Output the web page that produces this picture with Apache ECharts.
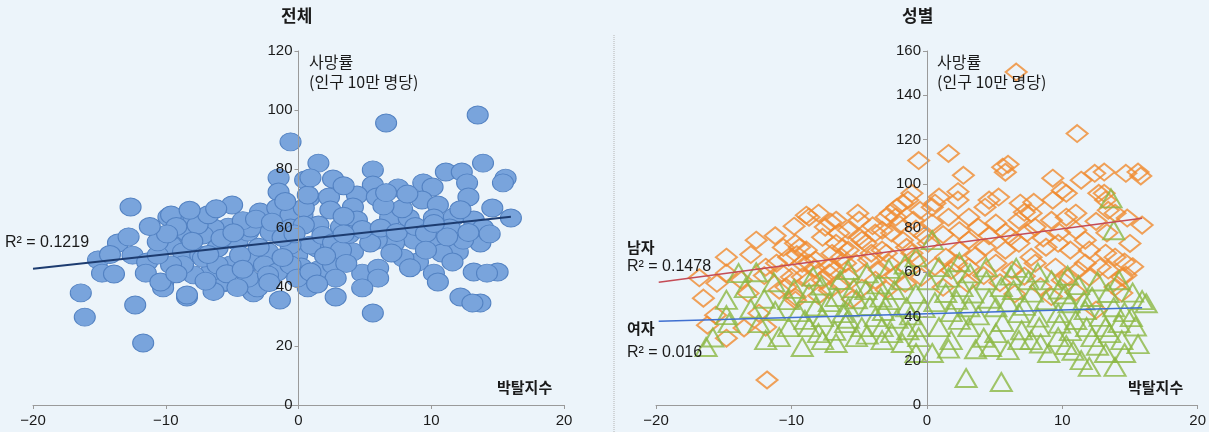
<!DOCTYPE html>
<html>
<head>
<meta charset="utf-8">
<script src="https://cdn.jsdelivr.net/npm/echarts@6/dist/echarts.min.js"></script>
<style>
  html, body { margin: 0; padding: 0; background: #ecf4fa; }
  #chart { width: 1209px; height: 432px; }
</style>
</head>
<body>
<div id="chart"></div>
<script>
// 박탈지수 vs 사망률 (인구 10만 명당): 전체 / 성별

// 전체 (deprivation index, death rate)
const allPoints = [
  [-12.65,67.1],[-13.6,54.9],[-15.1,49.2],[-14.8,44.7],[-13.9,44.4],[-16.4,38],[-16.1,29.8],[-12.3,33.9],[-11.7,21],
  [-12.5,50.8],[-11.4,48.5],[-11.5,44.7],[-10.2,41.2],[-10.2,39.7],[-8.4,36.6],[-5.0,67.8],[-9.8,63.7],[-8.9,62.7],
  [-7.9,63.4],[-9.5,54.2],[-0.6,89.2],[-1.5,77],[-1.5,72.2],[-5.7,41.4],[-3.4,38],[-1.4,35.6],
  [6.6,95.6],[13.5,98.3],[1.5,82],[13.9,82],[0.5,76.3],[2.6,76.6],[5.6,79.7],[5.6,74.6],[7.5,73.6],[9.4,75.3],
  [10.1,73.9],[11.1,79],[12.3,79],[12.7,75.3],[12.8,70.5],[15.6,76.9],[15.4,75.3],[14.6,66.8],[16,63.4],[9.3,69.5],
  [10.5,67.8],[0.8,70.2],[2.3,70.5],[4.4,71.2],[5.9,70.5],[4.1,67.1],[2.4,66.1],[0.3,64.4],[1.5,61],[3.2,60.3],
  [4.4,62.7],[6.9,63.4],[8.3,63.4],[10.2,63.4],[11.7,63.7],[13.2,62.7],[11.4,60],[13.7,54.9],[12,51.9],[12.4,55.9],
  [10.2,55.9],[10.8,51.5],[8.7,55.9],[9,48.5],[7.9,49.8],[7.2,54.9],[5.9,55.9],[4.1,51.9],[5.4,54.9],[1.4,53.2],
  [-0.1,50.8],[0.2,46.8],[1.5,45.8],[2.6,47.5],[0.7,39.7],[2.8,36.6],[4.8,44.7],[6,46.4],[6,43],[4.8,39.7],
  [5.6,31.2],[10.2,44.7],[10.5,41.7],[13.2,45.1],[15,45.1],[14.2,44.7],[12.2,36.6],[13.7,34.6],[13.1,34.6],[13.9,60],
  [-9.6,64.4],[-5.3,60.3],[-6.4,60],[-7.2,57.6],[-8.4,58.6],[-9.6,54.2],[-8.7,51.9],[-7.4,50.8],[-6.1,53.2],
  [-4.6,55.3],[-3.8,58.6],[-2.9,65.4],[-1.6,66.8],[-0.6,64.4],[0.4,66.8],[0.7,71.2],[0.9,77],[-3.6,60],[-2.1,58.6],
  [-0.6,60],[0.4,61],[0.9,54.2],[-0.6,54.2],[-2.3,51.9],[-3.6,48.5],[-2.6,47.5],[-1.6,45.1],[-0.6,47.5],[-0.1,43],
  [0.9,45.1],[-3.1,39.7],[-3.8,43],[-5.1,47.5],[-5.6,41.7],[-6.6,45.1],[-7.9,44.1],[-8.7,47.5],[-9.6,47.5],
  [-10.4,41.7],[-8.4,37.3],[-7.2,49.8],[-10.6,50.8],[-10.6,55.3],[-4.4,50.8],[-6.1,47.5],[-2.3,44.1],
  [-9.2,60.5],[-7.6,61],[-6.8,64.5],[-4.2,62.5],[-3.2,63],[-5.8,56.5],[-4.9,58.4],[-8,55.5],[-9.9,58],[-6.8,51],
  [-5.4,44.5],[-4.2,46],[-3,53.5],[-1.2,56.8],[-2,62],[-1,69],[1.8,57.5],[2.6,55],[3.2,52.5],[3.8,57.8],
  [4.8,59.5],[6.2,60],[7.4,58.5],[8.8,60.5],[9.6,58.2],[7.8,66.5],[6.4,67.5],[3.4,64],[2,50.5],[3.6,48],
  [7,51.5],[8.4,46.5],[9.6,52.5],[11.2,57],[12.8,58.5],[14.4,58],[11.6,48.5],[2.8,43],[1.4,41],[-2.2,41.5],
  [-4.6,39.8],[-6.4,38.5],[-7,42],[-9.2,44.5],[-11.2,60.5],[-12.8,57],[-14.2,51],[-8.2,66],[-6.2,66.5],[-1.2,50],
  [3.4,58],[10.2,61.5],[12.2,66.2],[8.2,71.5],[6.6,72],[3.4,74.3],[-0.3,58]
];

// 남자
const malePoints = [
  [6.6,150.5],[11.1,122.7],[1.6,113.7],[-0.6,110.5],[2.7,103.8],[2.3,96.4],[2.3,92.6],[5.6,107.5],[5.8,105.2],
  [6.0,108.8],[9.3,102.5],[11.4,101.6],[12.4,104.7],[13.1,105.3],[14.7,104.7],[15.6,105.3],[15.8,103.5],[13.1,95.7],
  [13.4,88],[10,97],[10.3,95.7],[9.3,92.6],[6.9,91.2],[4.6,92.6],[4.3,89.4],[5.3,94],[7.2,87.1],[7.7,86.7],
  [7.9,91.6],[0.6,91.2],[-0.5,88],[-1.4,92.6],[-1.1,95.7],[-2.2,89.4],[-2.7,86.7],[-5.1,86.7],[-8.9,85.8],[-8,86.7],
  [12.7,95.7],[13.2,92.6],[13.9,86.7],[11,86.7],[15.9,81.3],[0.4,82.2],[1.6,84.9],[3.1,84.9],[3.8,80.4],[5.1,82.2],
  [5.8,78.1],[6.8,83.5],[8,80.4],[9.2,83.5],[10.3,84.9],[11,79],[11.7,74.5],[12,70],[13.2,68.6],[13.9,66.8],
  [14.4,57.8],[12.8,62.3],[11.7,64.1],[10.6,70],[9.7,73.1],[8.8,71.3],[7.7,66.8],[6.8,73.1],[5.8,70],[5.1,64.1],
  [4.3,71.3],[3.1,74.5],[2.4,70],[1.4,66.8],[0.1,73.1],[1.8,60.9],[3.1,62.3],[6.3,60.9],[8,64.1],[9.5,62.3],
  [10.5,57.8],[12,57.8],[13.4,61],[14.7,58.7],[13.9,53.3],[14.4,50.6],[12.5,42.9],[11.2,61],[10,56.4],[14.6,64.6],
  [-12.6,74.5],[-14.8,66.8],[-9.8,80.8],[-8.7,84.9],[-7.1,82.6],[-5,83.5],[-5.8,79],[-3.3,79],[-2.3,84.9],[-1.8,91.2],
  [-9.7,73.1],[-8.9,70],[-7.7,75.8],[-6.7,73.1],[-5.8,70],[-4.5,73.1],[-3.3,70],[-1.8,74.5],[-1.1,68.6],[-11.1,64.1],
  [-10.2,66.8],[-9.2,64.1],[-8.2,65.5],[-7.2,62.3],[-6.3,66.8],[-5.2,64.1],[-4.3,65.5],[-2.8,64.1],[-1.5,62.3],
  [-11.9,62.3],[-10,57.8],[-7.7,56.4],[-5.8,57.8],[-3.8,56.4],[-14.8,59.6],[-13.7,56.4],[-16.5,48.3],[-16.2,36.1],
  [-14.8,30.2],[-11.8,11.3],[-10.9,51.9],[-10.7,59.6],[-9.7,48.8],[-12.4,41.5],[-11.9,35.2],[-9.2,57.8],[-7.5,80.4],
  [-6.7,83.5],[-6.5,77.7],[-4.8,74.5],[-3.8,77.7],[-3,84.9],[-2.6,77.7],[-1.5,71.3],[-3,68.6],[-6,64.1],[-7.2,59.6],
  [-8.7,64.1],[-9.4,71.3],[-8.7,56.4],[-7.2,51.9],[-10.4,53.3],[-9.7,47.4],[-4.1,68.6],[0.4,89.4],[0.9,94],
  [-6.2,71],[-7,68.5],[-5,76],[-4,81],[-2,81.5],[-0.8,79.5],[-0.2,76.5],[-1,83.5],[-3.5,61],[-2.3,58.5],
  [-0.8,65.5],[-6.8,61],[-8.3,61.8],[-9.6,68],[-10.6,71.2],[-11.2,76.5],[-13,68],[-12,58.5],[-6.4,54.5],[-4.8,52.8],
  [-3,52],[-1.6,55],[-0.4,57.8],[0.6,62.5],[2.2,64],[3.6,67.5],[4.6,76.5],[6.2,76],[7.4,77.8],[8.6,75.5],
  [9.8,78],[2.4,78.8],[1.2,77],[4.2,58.5],[5.4,55.3],[7.2,58.2],[8.4,53.5],[6.5,50.2],[3,55],[1.2,53.2],
  [9.2,49],[11,51],[15.2,62.5],[15,73],[14.8,84.5],[13.3,77.8],[12.5,83],[-15.5,55],[-13.2,50.5],[-16.8,57.5],
  [-15.6,40.6],[-13.5,34.8],[-8,49.5],[-5.5,47.8]
];

// 여자
const femalePoints = [
  [-16.3,26.2],[-14.8,40.6],[-14.6,37],[-13.4,52.8],[-13.9,59.6],[-12.6,60],[-12.4,37],[-11.9,29.3],[-10.9,30.7],
  [-10.2,35.2],[-10.2,47.4],[-8.7,50.6],[-9.2,26.2],[-7.7,29.3],[-6.7,28],[-7.7,39.7],[-6,37],[-5.2,30.7],[-5.8,44.2],
  [-6.7,48.8],[-4.5,51.9],[-3.8,39.7],[-3.3,29.3],[-1.8,28],[-0.8,23.5],[-2.8,47.4],[-1.5,44.2],[-1.8,56.4],[-0.6,35.2],
  [-3.3,35.2],[-4.8,35.2],[-8.7,35.2],
  [2.9,12.2],[5.5,10.4],[0.4,23.5],[-0.6,30.7],[4.7,26.2],[6,24.8],[6.8,29.3],[9,23.5],[10.3,27.1],[11.4,20.3],
  [12,17.2],[13.2,23.5],[13.9,17.2],[14.4,29.3],[15.1,39.7],[15.9,47.4],[16.2,46],[13.2,35.2],[12.2,30.7],[11,38.4],
  [9.7,30.7],[8.3,35.2],[7.7,29.3],[5.1,32.5],[3.1,35.2],[1.8,29.3],[0.9,35.2],[6.8,41.5],[8.8,47.4],[10.5,46],
  [12.2,48.8],[13.4,50.6],[14.2,56.4],[9.2,56.4],[7.5,56.4],[5.5,53.3],[4.4,56.4],[2.6,53.3],[1.4,50.6],[0.1,56.4],
  [3.1,44.2],[5.1,44.2],[9.7,41.5],[11.7,42.9],[14.2,37],[13.6,93.4],[13.8,79],[-0.8,66.8],[0.4,74.5],[0.9,62.3],
  [-9.5,42],[-8.2,44.5],[-7.2,46.5],[-6.2,41.5],[-5.2,47.8],[-4.2,44.8],[-3.2,42.5],[-2.2,39],[-1.2,40.5],[-0.2,43.8],
  [-9,38.5],[-8,32.5],[-6.8,33.5],[-5.8,39],[-4.4,31.8],[-2.6,32.5],[-1.4,33.8],[-7.8,54],[-6.4,56.5],[-5.4,52.8],
  [-3.6,54.5],[-2.4,52],[-0.8,50.2],[-4.4,59.5],[-2.8,61.5],[-1.6,63.5],[-3.4,48.5],[-9.8,52.5],[-11.2,42.5],[-12,48],
  [-13,43.5],[-14.8,47.5],[-15.8,30.5],[-11.3,55.5],[-8.4,58],[-5.8,61],[0.6,46.5],[1.8,42],[2.4,38.5],[3.8,40.5],
  [4.6,48],[6,46.5],[7.2,44.8],[8.2,39.5],[9.8,36.8],[10.6,33.4],[11.8,35.2],[12.8,39.8],[13.8,44.2],[14.6,42],
  [15.4,35.5],[14.6,23.5],[12.6,26.8],[10.8,24.5],[8.4,27.8],[7,33.8],[5.6,37.5],[4.2,30.4],[3.6,25.2],[1.6,25.5],
  [2.2,47.5],[3.4,50.4],[6.4,52],[7.8,50.8],[9.8,52.2],[11.2,54.2],[12.6,55.8],[10.4,58.5],[8.2,59.8],[6.2,58.5],
  [3.2,59.5],[1.6,57.6],[2.4,64.5],[4.4,62.2],[6.6,62],[10.2,50],[11.6,47.2],[15.2,50.8],[13.5,32.5],[15.6,27.5]
];

// Linear trend lines (end points)
const trendAll = [[-20, 46.2], [16, 63.8]];
const trendMale = [[-19.8, 55.5], [15.9, 84.4]];
const trendFemale = [[-19.8, 37.8], [15.9, 43.9]];

// Axis ranges and ticks
const xTicks = { min: -20, max: 20, interval: 10 };
const yTicksAll = { min: 0, max: 120, interval: 20 };
const yTicksSex = { min: 0, max: 160, interval: 20 };

// Text
const titles = ['전체', '성별'];
const yName = ['사망률', '(인구 10만 명당)'];
const xName = '박탈지수';
const r2All = 'R² = 0.1219';
const maleLabel = ['남자', 'R² = 0.1478'];
const femaleLabel = ['여자', 'R² = 0.016'];

const FONT = '"Liberation Sans", "Noto Sans CJK KR", sans-serif';
const KFONT = '"Noto Sans CJK KR", "Liberation Sans", sans-serif';
const axisGray = '#9a9a9a';

// Plot areas (pixels)
const grids = [
  { left: 33, top: 51, width: 531, height: 354 },
  { left: 656, top: 51, width: 542, height: 354 }
];

function xAxisOf(gridIndex) {
  return {
    type: 'value', gridIndex, min: xTicks.min, max: xTicks.max, interval: xTicks.interval,
    axisLine: { show: true, onZero: false, lineStyle: { color: axisGray, width: 1 } },
    axisTick: { show: true, length: 4, lineStyle: { color: axisGray } },
    splitLine: { show: false },
    axisLabel: {
      color: '#1a1a1a', fontSize: 15, fontFamily: FONT, margin: 8,
      formatter: v => String(v).replace('-', '\u2212')
    }
  };
}
// y axis sits on x = 0, i.e. the middle of the plot area
function yAxisOf(gridIndex, t) {
  return {
    type: 'value', gridIndex, min: t.min, max: t.max, interval: t.interval, z: 10,
    offset: -grids[gridIndex].width / 2,
    axisLine: { show: true, onZero: false, lineStyle: { color: axisGray, width: 1 } },
    axisTick: { show: true, length: 4, lineStyle: { color: axisGray } },
    splitLine: { show: false },
    axisLabel: { color: '#1a1a1a', fontSize: 15, fontFamily: FONT, margin: 6 }
  };
}
function txt(left, top, text, opts) {
  return {
    type: 'text', left, top, z: 100,
    style: Object.assign({ text, fill: '#1a1a1a', font: '14px ' + KFONT }, opts || {})
  };
}

const chart = echarts.init(document.getElementById('chart'), null, { renderer: 'canvas' });
chart.setOption({
  backgroundColor: '#ecf4fa',
  animation: false,
  grid: grids.map(g => Object.assign({ show: false }, g)),
  xAxis: [xAxisOf(0), xAxisOf(1)],
  yAxis: [yAxisOf(0, yTicksAll), yAxisOf(1, yTicksSex)],
  series: [
    {
      name: '전체', type: 'scatter', xAxisIndex: 0, yAxisIndex: 0, data: allPoints,
      symbol: 'circle', symbolSize: [21, 18],
      itemStyle: { color: '#79a4dc', borderColor: '#5382c2', borderWidth: 1, opacity: 1 }
    },
    {
      type: 'line', xAxisIndex: 0, yAxisIndex: 0, data: trendAll, symbol: 'none', z: 5,
      lineStyle: { color: '#1d3c70', width: 2 }
    },
    {
      name: '남자', type: 'scatter', xAxisIndex: 1, yAxisIndex: 1, data: malePoints,
      symbol: 'diamond', symbolSize: [21, 17],
      itemStyle: { color: 'rgba(0,0,0,0)', borderColor: '#f08b30', borderWidth: 2 }
    },
    {
      name: '여자', type: 'scatter', xAxisIndex: 1, yAxisIndex: 1, data: femalePoints,
      symbol: 'triangle', symbolSize: [21, 18],
      itemStyle: { color: 'rgba(0,0,0,0)', borderColor: '#8cb843', borderWidth: 2 }
    },
    {
      type: 'line', xAxisIndex: 1, yAxisIndex: 1, data: trendMale, symbol: 'none', z: 5,
      lineStyle: { color: '#c44b55', width: 1.5 }
    },
    {
      type: 'line', xAxisIndex: 1, yAxisIndex: 1, data: trendFemale, symbol: 'none', z: 5,
      lineStyle: { color: '#3f6fd0', width: 1.5 }
    }
  ],
  graphic: [
    // panel divider
    {
      type: 'line', z: 1,
      shape: { x1: 614, y1: 35, x2: 614, y2: 432 },
      style: { stroke: '#b5b5b5', lineWidth: 1, lineDash: [1, 1] }
    },
    txt(281, 7, titles[0], { font: 'bold 17px ' + KFONT }),
    txt(902, 7, titles[1], { font: 'bold 17px ' + KFONT }),
    txt(309, 54, yName[0], { font: '16px ' + KFONT }),
    txt(309, 74, yName[1], { font: '16px ' + KFONT }),
    txt(937, 54, yName[0], { font: '16px ' + KFONT }),
    txt(937, 74, yName[1], { font: '16px ' + KFONT }),
    txt(497, 380, xName, { font: 'bold 15px ' + KFONT }),
    txt(1128, 380, xName, { font: 'bold 15px ' + KFONT }),
    txt(5, 235, r2All, { font: '16px ' + FONT }),
    txt(627, 240, maleLabel[0], { font: 'bold 15px ' + KFONT }),
    txt(627, 259, maleLabel[1], { font: '16px ' + FONT }),
    txt(627, 321, femaleLabel[0], { font: 'bold 15px ' + KFONT }),
    txt(627, 345, femaleLabel[1], { font: '16px ' + FONT })
  ]
});
</script>
</body>
</html>
